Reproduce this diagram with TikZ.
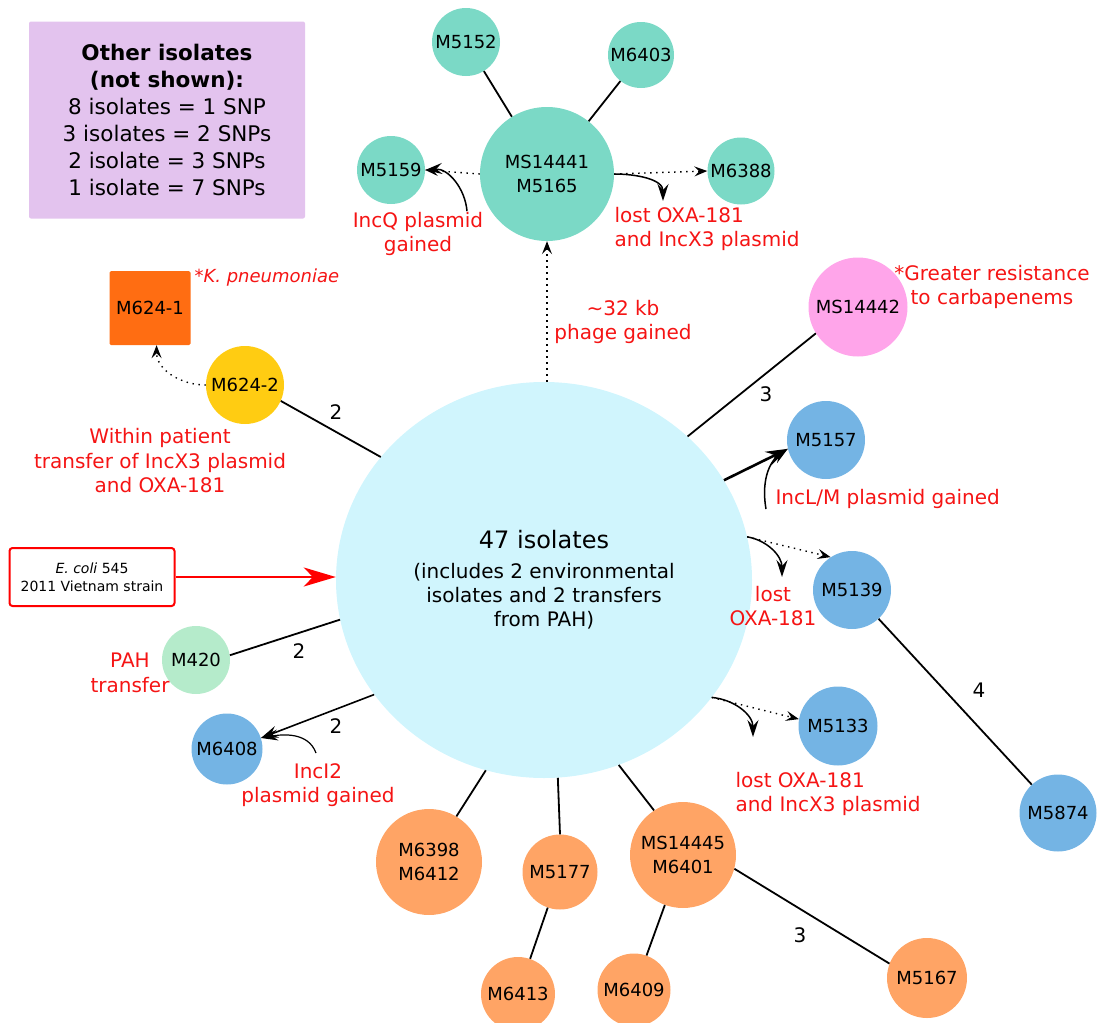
\documentclass[tikz,border=0pt]{standalone}
\usepackage{fontspec}
\setmainfont{DejaVu Sans}[ItalicFont={DejaVu Sans Oblique},BoldFont={DejaVu Sans Bold}]
\usetikzlibrary{arrows.meta,shapes.geometric}
\definecolor{lilac}{HTML}{E3C3EE}
\definecolor{tealiso}{HTML}{7BD9C6}
\definecolor{mainiso}{HTML}{D0F5FD}
\definecolor{blueiso}{HTML}{74B4E4}
\definecolor{peachiso}{HTML}{FFA465}
\definecolor{pinkiso}{HTML}{FFA5EA}
\definecolor{goldiso}{HTML}{FFCC12}
\definecolor{rustiso}{HTML}{FF6D12}
\definecolor{mintiso}{HTML}{B5EBCB}
\definecolor{notered}{HTML}{F51414}
\begin{document}
\begin{tikzpicture}[x=1pt,y=-1pt,
  every node/.style={font=\fontsize{18}{24}\selectfont},
  iso/.style={circle,inner sep=0pt,minimum size=#1,align=center},
  note/.style={text=notered,align=center,font=\fontsize{20}{24.5}\selectfont},
  snp/.style={font=\fontsize{20}{24}\selectfont},
  link/.style={line width=1.8pt},
  gain/.style={line width=1.6pt,-{Stealth[length=17pt,width=12pt,inset=6pt]}},
  hint/.style={line width=1.5pt,-{Stealth[length=17pt,width=11pt,inset=6pt]}},
  dots/.style={line width=1.4pt,dash pattern=on 1.4pt off 4.6pt,
    -{Stealth[length=13pt,width=10pt,inset=5pt]}}]
  \useasboundingbox (0,0) rectangle (1098,1023);
  % Legend
  \node[fill=lilac,rounded corners=2pt,minimum width=276,minimum height=197,
    align=center,font=\fontsize{21.5}{27}\selectfont] (legend) at (167,120)
    {\textbf{Other isolates}\\\textbf{(not shown):}\\8 isolates = 1 SNP\\
     3 isolates = 2 SNPs\\2 isolate = 3 SNPs\\1 isolate = 7 SNPs};
  % Centre
  \node[ellipse,inner sep=0pt,minimum width=416,minimum height=396,fill=mainiso,
    align=center,font=\fontsize{20}{24}\selectfont] (main) at (544,580)
    {{\fontsize{24}{30}\selectfont 47 isolates}\\[6pt](includes 2 environmental\\
     isolates and 2 transfers\\from PAH)};
  \node[draw=red,line width=2pt,fill=white,rounded corners=3pt,minimum width=165,
    minimum height=58,align=center,font=\fontsize{14}{18}\selectfont] (ecoli) at (92,577)
    {\textit{E. coli} 545\\2011 Vietnam strain};
  % Top group
  \node[iso=68,fill=tealiso] (m5152) at (466,42) {M5152};
  \node[iso=66,fill=tealiso] (m6403) at (641,55) {M6403};
  \node[iso=134,fill=tealiso] (ms14441) at (547,174) {MS14441\\M5165};
  \node[iso=68,fill=tealiso] (m5159) at (391,170) {M5159};
  \node[iso=67,fill=tealiso] (m6388) at (741,171) {M6388};
  % Left side
  \node[fill=rustiso,rounded corners=1.5pt,minimum width=81,minimum height=74] (m6241) at (150,308) {M624-1};
  \node[iso=78,fill=goldiso] (m6242) at (245,385) {M624-2};
  \node[iso=68,fill=mintiso] (m420) at (196,660) {M420};
  \node[iso=71,fill=blueiso] (m6408) at (227,749) {M6408};
  % Right side
  \node[iso=99,fill=pinkiso] (ms14442) at (858,307) {MS14442};
  \node[iso=78,fill=blueiso] (m5157) at (826,440) {M5157};
  \node[iso=78,fill=blueiso] (m5139) at (852,590) {M5139};
  \node[iso=79,fill=blueiso] (m5133) at (838,726) {M5133};
  \node[iso=77,fill=blueiso] (m5874) at (1058,813) {M5874};
  % Bottom group
  \node[iso=106,fill=peachiso] (m6398) at (429,862) {M6398\\M6412};
  \node[iso=75,fill=peachiso] (m5177) at (560,872) {M5177};
  \node[iso=106,fill=peachiso] (ms14445) at (683,855) {MS14445\\M6401};
  \node[iso=74,fill=peachiso] (m6413) at (518,994) {M6413};
  \node[iso=73,fill=peachiso] (m6409) at (634,990) {M6409};
  \node[iso=80,fill=peachiso] (m5167) at (927,978) {M5167};
  % SNP counts
  \node[snp] (snpa) at (336,412) {2};
  \node[snp] (snpb) at (766,394) {3};
  \node[snp] (snpc) at (299,651) {2};
  \node[snp] (snpd) at (336,726) {2};
  \node[snp] (snpe) at (800,935) {3};
  \node[snp] (snpf) at (979,690) {4};
  % Notes
  \node[note] (incq) at (418,234) {IncQ plasmid\\gained};
  \node[note,align=left,anchor=west] (losta) at (611,229) {lost OXA-181\\and IncX3 plasmid};
  \node[note] (phage) at (623,322) {\textasciitilde32 kb\\phage gained};
  \node[note] (greater) at (992,287) {*Greater resistance\\to carbapenems};
  \node[note,anchor=west,font=\fontsize{18}{22}\selectfont\itshape] (kpn) at (191,278) {*K. pneumoniae};
  \node[note] (within) at (160,461) {Within patient\\transfer of IncX3 plasmid\\and OXA-181};
  \node[note,anchor=west] (incl) at (772,499) {IncL/M plasmid gained};
  \node[note] (lostb) at (773,606) {lost\\OXA-181};
  \node[note,align=left,anchor=west] (lostc) at (732,794) {lost OXA-181\\and IncX3 plasmid};
  \node[note] (pah) at (130,673) {PAH\\transfer};
  \node[note] (inci) at (318,785) {IncI2\\plasmid gained};
  % Free ends of the hints
  \coordinate (qfoot) at (467,211);
  \coordinate (atip) at (663,201);
  \coordinate (lfoot) at (766,509);
  \coordinate (btip) at (782,577);
  \coordinate (ctip) at (753,737);
  \coordinate (ifoot) at (316,753);
  % Edges
  \foreach \a/\b in {ms14441/m5152,ms14441/m6403,m5177/m6413,ms14445/m6409,m5139/m5874,
    main.143/m6242.-24,main.45/ms14442.212,main.191/m420.8,main.253/m6398.59,
    main.274/m5177.90,main.292/ms14445.123,ms14445.-15/m5167.159}
    \draw[link] (\a)--(\b);
  \draw[gain,line width=2.6pt,-{Stealth[length=22pt,width=15pt,inset=8pt]}] (main.29)--(m5157.193);
  \draw[gain] (main.214)--(m6408.18);
  \draw[red,line width=2pt,-{Stealth[length=32pt,width=19pt,inset=9pt]}] (ecoli.east)--(ecoli.east -| main.west);
  \draw[dots] (ms14441.south |- main.north)--(ms14441.south);
  \foreach \a/\b in {ms14441.west/m5159.east,ms14441.east/m6388.west,
    main.12/m5139.123,main.-35/m5133.170}
    \draw[dots] (\a)--(\b);
  \draw[dots] (m6242.west) to[out=180,in=-90] (m6241.-80);
  % Hints
  \draw[hint] (qfoot) to[out=95,in=5] (m5159.east);
  \draw[hint] (ms14441.east) to[out=0,in=90] (atip);
  \draw[hint] (lfoot) to[out=100,in=215] (m5157.193);
  \draw[hint] (main.12) to[out=-10,in=90] (btip);
  \draw[hint] (main.-35) to[out=-5,in=90] (ctip);
  \draw[hint,line width=1.2pt] (ifoot) to[out=110,in=10] (m6408.18);
\end{tikzpicture}
\end{document}
